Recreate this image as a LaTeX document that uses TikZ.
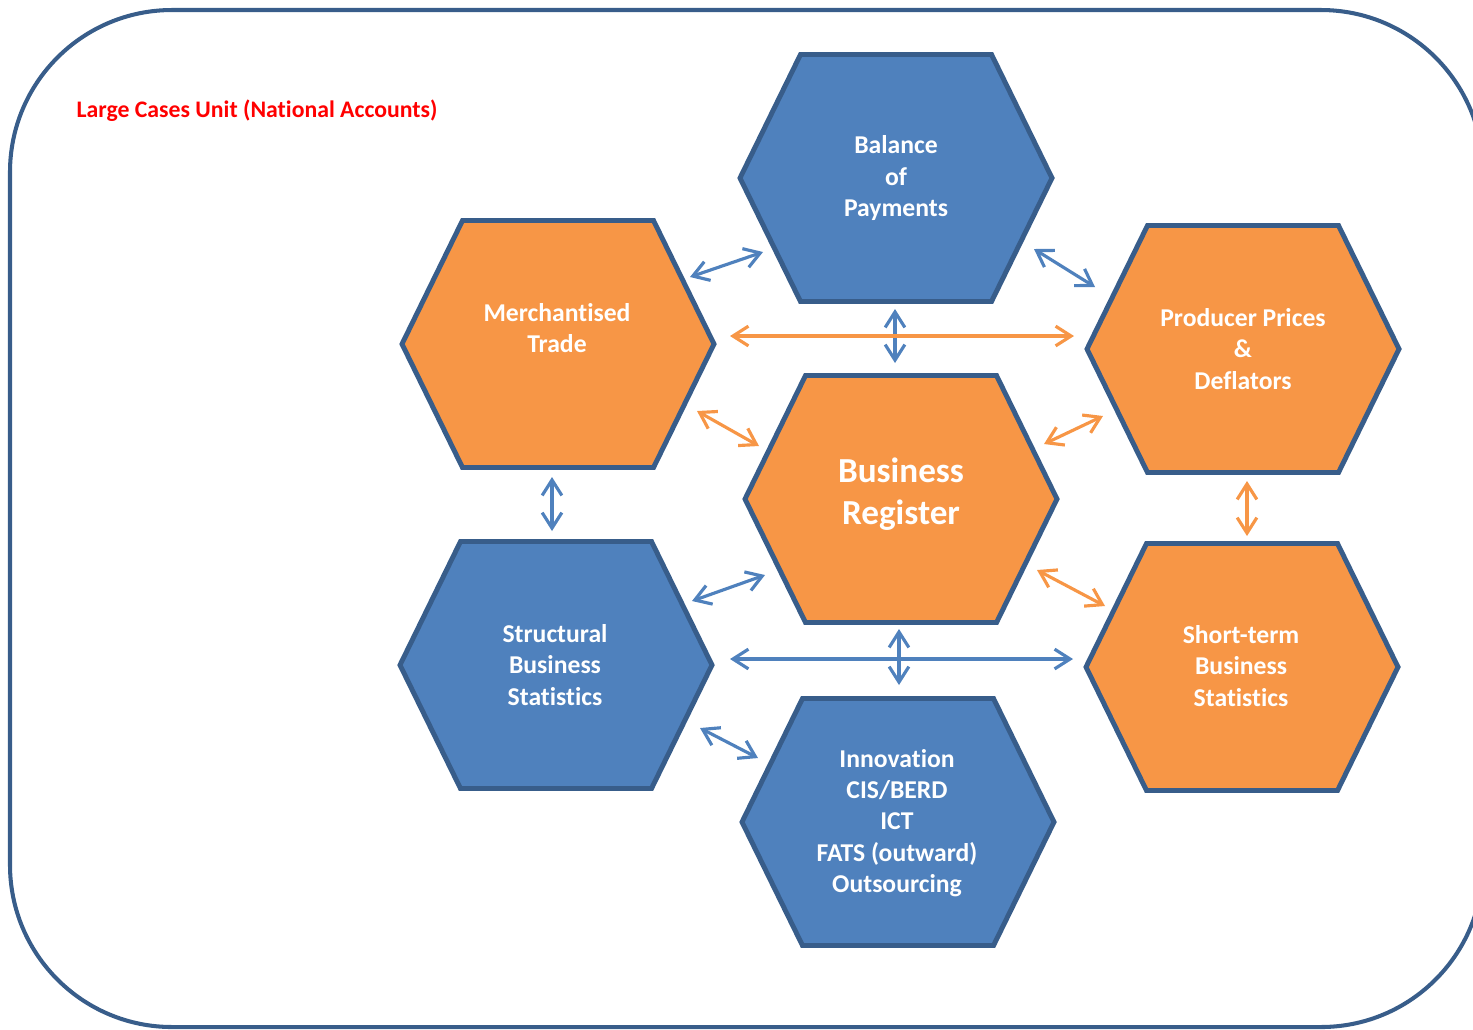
\documentclass[tikz,border=0pt]{standalone}
\usepackage{fontspec}
\setmainfont{Carlito}[Ligatures=NoCommon]
\usetikzlibrary{arrows.meta,calc}

\definecolor{hexblue}{HTML}{4F81BD}
\definecolor{hexorange}{HTML}{F79646}
\definecolor{hexedge}{HTML}{385D8A}

\tikzset{
  pics/hexa/.style={code={
    \draw[line width=1.4pt, draw=hexedge, fill=#1]
         (-156,0) -- (-95.5,-123.5) -- (95.5,-123.5)
      -- (156,0) -- (95.5,123.5) -- (-95.5,123.5) -- cycle;
  }},
  hexlabel/.style={text=white, align=center, font=\bfseries\fontsize{7.3}{8.9}\selectfont},
  bluearrow/.style={draw=hexblue, line width=0.9pt, {Straight Barb[length=4.4pt,width=5.6pt]}-{Straight Barb[length=4.4pt,width=5.6pt]}},
  orangearrow/.style={bluearrow, draw=hexorange},
}

\begin{document}
\begin{tikzpicture}[x=0.01cm, y=-0.01cm]
  \useasboundingbox (0,0) rectangle (1473,1029);
  \clip (0,0) rectangle (1473,1029);

  % frame
  \draw[draw=hexedge, line width=1.15pt, rounded corners=1.62cm] (10,10) rectangle (1483,1027);
  \node[anchor=west, inner sep=0pt, text=red, font=\bfseries\fontsize{6.75}{8.1}\selectfont] (lcu) at (76,111)
       {Large Cases Unit (National Accounts)};

  % hexagon centres
  \coordinate (bop) at (896,178);
  \coordinate (mt)  at (558,344);
  \coordinate (pp)  at (1243,349);
  \coordinate (br)  at (901,499);
  \coordinate (sbs) at (556,665);
  \coordinate (sts) at (1242,667);
  \coordinate (inn) at (898,822);

  % hexagons
  \pic at (bop) {hexa=hexblue};
  \pic at (mt)  {hexa=hexorange};
  \pic at (pp)  {hexa=hexorange};
  \pic at (br)  {hexa=hexorange};
  \pic at (sbs) {hexa=hexblue};
  \pic at (sts) {hexa=hexorange};
  \pic at (inn) {hexa=hexblue};

  % labels
  \node[hexlabel] (bop text) at (896,178) {Balance\\of\\Payments};
  \node[hexlabel] (mt text)  at (557,328) {Merchantised\\Trade};
  \node[hexlabel] (pp text)  at (1243,349) {Producer Prices\\\&\\Deflators};
  \node[hexlabel, font=\bfseries\fontsize{10}{12}\selectfont] (br text) at (901,494) {Business\\Register};
  \node[hexlabel] (sbs text) at (555,665) {Structural\\Business\\Statistics};
  \node[hexlabel] (sts text) at (1241,666) {Short-term\\Business\\Statistics};
  \node[hexlabel] (inn text) at (897,823) {Innovation\\CIS/BERD\\ICT\\FATS (outward)\\Outsourcing};

  % links
  \draw[bluearrow]   ($(mt)+(132,-67)$)  -- ($(bop)+(-133,74)$);
  \draw[bluearrow]   ($(bop)+(138,71)$)  -- ($(pp)+(-148,-62)$);
  \draw[bluearrow]   ($(bop)+(-1,131)$)  -- ($(br)+(-6,-136)$);
  \draw[orangearrow] ($(mt)+(172,-8)$)   -- ($(pp)+(-169,-13)$);
  \draw[orangearrow] ($(mt)+(139,67)$)   -- ($(br)+(-142,-53)$);
  \draw[orangearrow] ($(br)+(143,-55)$)  -- ($(pp)+(-140,67)$);
  \draw[bluearrow]   ($(mt)+(-6,133)$)   -- ($(sbs)+(-4,-134)$);
  \draw[orangearrow] ($(pp)+(4,132)$)    -- ($(sts)+(5,-131)$);
  \draw[bluearrow]   ($(sbs)+(136,-64)$) -- ($(br)+(-136,76)$);
  \draw[orangearrow] ($(br)+(136,71)$)   -- ($(sts)+(-137,-61)$);
  \draw[bluearrow]   ($(sbs)+(174,-6)$)  -- ($(sts)+(-169,-8)$);
  \draw[bluearrow]   ($(br)+(-2,130)$)   -- ($(inn)+(1,-137)$);
  \draw[bluearrow]   ($(sbs)+(144,63)$)  -- ($(inn)+(-140,-64)$);
\end{tikzpicture}
\end{document}
